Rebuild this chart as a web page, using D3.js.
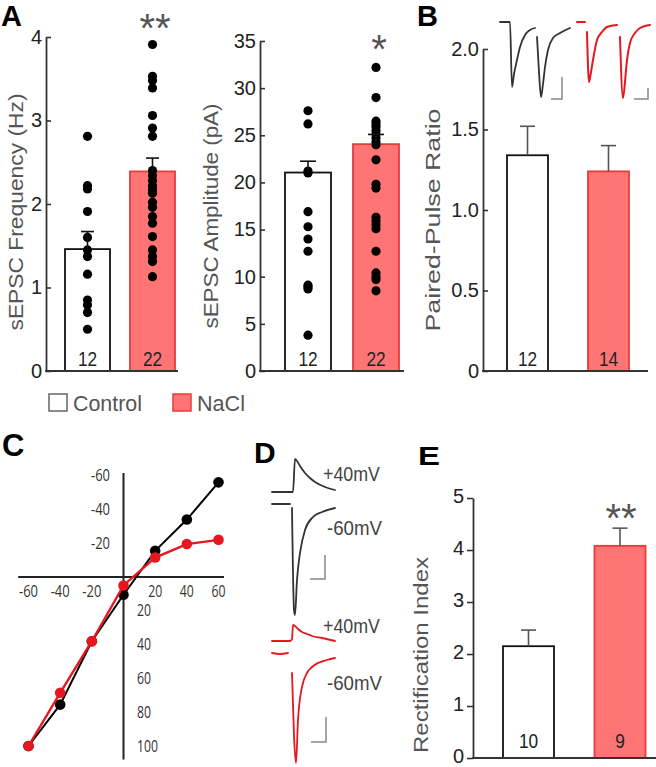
<!DOCTYPE html>
<html><head><meta charset="utf-8">
<script src="https://cdn.jsdelivr.net/npm/d3@7"></script>
<style>body{margin:0;background:#fff}svg{display:block}</style>
</head><body>
<svg id="fig" width="656" height="767"></svg>
<script>
// ---------------- DATA ----------------
const groups = ["Control", "NaCl"];
// Panel A (left): sEPSC frequency (Hz)
const freqMean = [1.46, 2.39];
const freqSem = [0.21, 0.16];
const freqControl = [2.81, 2.22, 2.18, 1.91, 1.60, 1.45, 1.37, 1.16, 0.85, 0.79, 0.70, 0.50];
const freqNaCl = [3.91, 3.53, 3.48, 3.39, 3.06, 2.91, 2.81, 2.40, 2.34, 2.28, 2.22, 2.17, 2.13, 2.02, 1.96, 1.85, 1.77, 1.61, 1.45, 1.37, 1.31, 1.13];
const freqTicks = [0, 1, 2, 3, 4];
// Panel A (right): sEPSC amplitude (pA)
const ampMean = [21.05, 24.06];
const ampSem = [1.2, 1.03];
const ampControl = [27.6, 26.2, 21.2, 21.0, 16.9, 15.3, 14.0, 12.7, 9.1, 8.9, 8.7, 3.8];
const ampNaCl = [32.2, 29.0, 26.5, 26.2, 25.9, 25.5, 25.1, 24.7, 24.3, 24.0, 22.4, 19.8, 19.4, 16.3, 15.9, 15.5, 15.1, 12.7, 10.4, 10.0, 9.7, 8.5];
const ampTicks = [0, 5, 10, 15, 20, 25, 30, 35];
const nA = [12, 22];
// Panel B: paired-pulse ratio
const pprMean = [1.34, 1.24];
const pprSem = [0.18, 0.16];
const pprTicks = [0, 0.5, 1.0, 1.5, 2.0];
const nB = [12, 14];
// Panel C: I-V relation (mV vs normalised current)
const ivVoltage = [-60, -40, -20, 0, 20, 40, 60];
const ivControl = [100, 75.5, 38, 10.5, -15.5, -34, -56];
const ivNaCl = [100, 68.5, 38, 5, -11.5, -19.5, -22];
const ivTicksX = [-60, -40, -20, 20, 40, 60];
const ivTicksY = [-60, -40, -20, 20, 40, 60, 80, 100];
// Panel E: rectification index
const riMean = [2.15, 4.08];
const riSem = [0.31, 0.34];
const riTicks = [0, 1, 2, 3, 4, 5];
const nE = [10, 9];
// Example traces (time, current)
const pprTraceControl = [[0,0],[10,0],[12,65],[14,52],[17,38],[20,25],[25,13],[30,8],[35,6],null,[37,15],[39,50],[41,75],[43,62],[45,45],[48,28],[53,16],[60,11],[70,6]];
const pprTraceNaCl = [[77,0],[85,0],null,[87,10],[89,60],[91,50],[93,38],[97,18],[102,10],[107,5],[117,3],null,[120,15],[123,76],[125,60],[126,48],[130,21],[135,11],[140,6],[150,3]];
const traceCtl40 = [[0,0],[21,0],[23,33],[25,31],[28,26],[33,19],[38,14],[43,10],[53,5],[63,2]];
const traceCtl60 = [[0,-12],[18,-12],null,[20,-16],[22,-118],[23,-123],[25,-88],[28,-61],[33,-38],[41,-25],[50,-20],[63,-16]];
const traceNaCl40 = [[0,0],[18,0],[20,2],[21,16],[23,15],[26,12],[30,9],[35,7],[40,5],[50,3],[63,0]];
const traceNaCl60 = [[0,-12],[8,-13],[16,-12],null,[20,-32],[22,-95],[24,-122],[26,-79],[30,-46],[35,-32],[40,-26],[46,-22],[55,-19],[63,-17]];

// ---------------- STYLE ----------------
const FONT = "'Liberation Sans', Arial, sans-serif";
const RED_FILL = "#ff7474";
const RED_STROKE = "#e43c3c";
const RED_LINE = "#e4181e";
const svg = d3.select("#fig");

function htext(x, y, str, o = {}) {
  const t = svg.append("text").attr("x", x).attr("y", y).text(str)
    .attr("font-family", o.family || FONT).attr("font-size", o.size || 19)
    .attr("fill", o.fill || "#222").attr("text-anchor", o.anchor || "start");
  if (o.weight) t.attr("font-weight", o.weight);
  if (o.len) t.attr("textLength", o.len).attr("lengthAdjust", "spacingAndGlyphs");
  if (o.dy) t.attr("dy", o.dy);
  return t;
}
function vtext(x, y, str, size, len, fill) {
  svg.append("text").attr("transform", `translate(${x},${y}) rotate(-90)`)
    .attr("text-anchor", "middle").attr("dominant-baseline", "central")
    .attr("font-family", FONT).attr("font-size", size).attr("fill", fill)
    .attr("textLength", len).attr("lengthAdjust", "spacingAndGlyphs").text(str);
}

function barPanel(c) {
  const y = d3.scaleLinear().domain([0, c.max]).range([c.y0, c.y1]);
  const x = d3.scalePoint().domain(groups).range(c.centers);
  const g = svg.append("g");
  g.selectAll("rect").data(groups).join("rect")
    .attr("x", d => x(d) - c.barW / 2).attr("width", c.barW)
    .attr("y", (d, i) => y(c.means[i])).attr("height", (d, i) => y(0) - y(c.means[i]))
    .attr("fill", (d, i) => i ? RED_FILL : "#fff")
    .attr("stroke", (d, i) => i ? RED_STROKE : "#111").attr("stroke-width", 1.8);
  if (c.dots) {
    c.dots.forEach((arr, i) => {
      g.append("g").selectAll("circle").data(arr).join("circle")
        .attr("cx", x(groups[i])).attr("cy", v => y(v)).attr("r", 4.6).attr("fill", "#000");
    });
  }
  const eg = g.append("g").attr("stroke", c.errColor).attr("stroke-width", 1.6);
  groups.forEach((d, i) => {
    const top = y(c.means[i] + c.sems[i]);
    eg.append("line").attr("x1", x(d)).attr("x2", x(d)).attr("y1", y(c.means[i])).attr("y2", top);
    eg.append("line").attr("x1", x(d) - c.capW / 2).attr("x2", x(d) + c.capW / 2).attr("y1", top).attr("y2", top);
  });
  const ax = d3.axisLeft(y).tickValues(c.ticks).tickFormat(c.fmt).tickSizeOuter(0)
    .tickSizeInner(c.tickIn ? -5 : 6).tickPadding(c.tickIn ? 4 : 3);
  const ga = g.append("g").attr("transform", `translate(${c.axisX},0)`).call(ax);
  ga.select(".domain").attr("stroke", "#333").attr("stroke-width", 1.8);
  ga.selectAll(".tick line").attr("stroke", "#333").attr("stroke-width", 1.6);
  ga.selectAll(".tick text").attr("font-family", FONT).attr("font-size", 20).attr("fill", "#222")
    .attr("dy", c.tickDy || "0.32em");
  g.append("line").attr("x1", c.axisX - 0.9).attr("x2", c.axisEnd).attr("y1", y(0)).attr("y2", y(0))
    .attr("stroke", "#333").attr("stroke-width", 1.8);
  groups.forEach((d, i) => {
    const s = String(c.n[i]);
    htext(x(d), c.nBase, s, { size: 21, anchor: "middle", fill: "#222", len: 9.6 * s.length });
  });
  return { x, y };
}

const intFmt = d => String(d);
const pprFmt = d => d === 0 ? "0" : d3.format(".1f")(d);

// Panel A - frequency
barPanel({ axisX: 46, y0: 371, y1: 37, max: 4, ticks: freqTicks, fmt: intFmt, centers: [87.5, 152.5], barW: 45,
  means: freqMean, sems: freqSem, dots: [freqControl, freqNaCl], capW: 13, errColor: "#111", tickIn: true,
  axisEnd: 178, n: nA, nBase: 366 });
// Panel A - amplitude
barPanel({ axisX: 260, y0: 371, y1: 41, max: 35, ticks: ampTicks, fmt: intFmt, centers: [308, 376], barW: 46,
  means: ampMean, sems: ampSem, dots: [ampControl, ampNaCl], capW: 16, errColor: "#111", tickIn: true,
  axisEnd: 404, n: nA, nBase: 366 });
// Panel B
barPanel({ axisX: 483, y0: 371, y1: 49, max: 2, ticks: pprTicks, fmt: pprFmt, centers: [527.5, 608.5], barW: 41,
  means: pprMean, sems: pprSem, dots: null, capW: 15, errColor: "#555", tickIn: true,
  axisEnd: 648, n: nB, nBase: 366 });
// Panel E
barPanel({ axisX: 473, y0: 758, y1: 498, max: 5, ticks: riTicks, fmt: intFmt, centers: [528.5, 620], barW: 51,
  means: riMean, sems: riSem, dots: null, capW: 15, errColor: "#555", tickIn: false, tickDy: "0.22em",
  axisEnd: 656, n: nE, nBase: 748 });

// axis titles
vtext(15, 212, "sEPSC Frequency (Hz)", 21, 237, "#555");
vtext(210, 216, "sEPSC Amplitude (pA)", 21, 225, "#555");
vtext(432, 220, "Paired-Pulse Ratio", 21, 223, "#555");
vtext(420, 655, "Rectification Index", 21, 196, "#555");

// significance stars
htext(155, 42, "**", { size: 40, anchor: "middle", fill: "#555" });
htext(379, 63, "*", { size: 40, anchor: "middle", fill: "#555" });
htext(621, 532, "**", { size: 40, anchor: "middle", fill: "#555" });

// panel letters
htext(1, 26, "A", { size: 29, weight: "bold", fill: "#000" });
htext(417, 26, "B", { size: 29, weight: "bold", fill: "#000" });
htext(2, 456, "C", { size: 31, weight: "bold", fill: "#000" });
htext(254, 463, "D", { size: 30, weight: "bold", fill: "#000" });
htext(418, 465, "E", { size: 25, weight: "bold", fill: "#000", len: 22 });

// legend
svg.append("rect").attr("x", 49).attr("y", 394).attr("width", 18).attr("height", 17)
  .attr("fill", "#fff").attr("stroke", "#666").attr("stroke-width", 1.5);
htext(73, 411, groups[0], { size: 22, fill: "#555", len: 69 });
svg.append("rect").attr("x", 173).attr("y", 394).attr("width", 18).attr("height", 17)
  .attr("fill", RED_FILL).attr("stroke", RED_STROKE).attr("stroke-width", 1.5);
htext(197, 411, groups[1], { size: 22, fill: "#555", len: 48 });

// ---------------- Panel C: I-V ----------------
(function () {
  const xC = d3.scaleLinear().domain([-60, 60]).range([28.5, 218.5]);
  const yC = d3.scaleLinear().domain([-60, 100]).range([475.6, 746]);
  const g = svg.append("g");
  g.append("line").attr("x1", xC(-66.5)).attr("x2", xC(63.5)).attr("y1", yC(0)).attr("y2", yC(0))
    .attr("stroke", "#222").attr("stroke-width", 2);
  g.append("line").attr("x1", xC(0)).attr("x2", xC(0)).attr("y1", yC(-61.5)).attr("y2", yC(108))
    .attr("stroke", "#222").attr("stroke-width", 2);
  const lab = { family: "'Open Sans', 'Liberation Sans', sans-serif", size: 16, fill: "#333" };
  const tl = v => Math.abs(v).toString().length * 7 + (v < 0 ? 5 : 0);
  ivTicksX.forEach(v => htext(xC(v), yC(0) + 14, String(v), { ...lab, anchor: "middle", dy: "0.35em", len: tl(v) }));
  ivTicksY.forEach(v => htext(v < 0 ? 110 : 137, yC(v), String(v), { ...lab, anchor: v < 0 ? "end" : "start", dy: "0.35em", len: tl(v) }));
  const line = d3.line().x((d, i) => xC(ivVoltage[i])).y(d => yC(d));
  [[ivControl, "#000", 2], [ivNaCl, RED_LINE, 2.4]].forEach(([arr, col, w]) => {
    g.append("path").attr("d", line(arr)).attr("fill", "none").attr("stroke", col).attr("stroke-width", w);
    g.append("g").selectAll("circle").data(arr).join("circle")
      .attr("cx", (d, i) => xC(ivVoltage[i])).attr("cy", d => yC(d)).attr("r", 5.3).attr("fill", col);
  });
})();

// ---------------- Traces ----------------
function drawTrace(arr, xs, ys, col, w) {
  const l = d3.line().defined(d => d !== null).x(d => xs(d[0])).y(d => ys(d[1])).curve(d3.curveMonotoneX);
  svg.append("path").attr("d", l(arr)).attr("fill", "none").attr("stroke", col).attr("stroke-width", w)
    .attr("stroke-linejoin", "round").attr("stroke-linecap", "round");
}
function scaleBar(xs, ys, t0, t1, v0, v1) {
  svg.append("path").attr("d", `M${xs(t0)},${ys(v1)}H${xs(t1)}V${ys(v0)}`)
    .attr("fill", "none").attr("stroke", "#888").attr("stroke-width", 1.5);
}
// Panel B example traces
const xB = d3.scaleLinear().domain([0, 150]).range([500, 650]);
const yB = d3.scaleLinear().domain([0, 76]).range([22, 98]);
drawTrace(pprTraceControl, xB, yB, "#333", 1.8);
drawTrace(pprTraceNaCl, xB, yB, RED_LINE, 2);
scaleBar(xB, yB, 51, 62, 55, 77);
scaleBar(xB, yB, 134, 148, 66, 77);

// Panel D example traces
const xD = d3.scaleLinear().domain([0, 63]).range([272, 335]);
const yDc = d3.scaleLinear().domain([0, 100]).range([492, 392]);
const yDn = d3.scaleLinear().domain([0, 100]).range([641, 541]);
drawTrace(traceCtl40, xD, yDc, "#333", 1.8);
drawTrace(traceCtl60, xD, yDc, "#333", 1.8);
drawTrace(traceNaCl40, xD, yDn, RED_LINE, 1.8);
drawTrace(traceNaCl60, xD, yDn, RED_LINE, 1.8);
scaleBar(xD, yDc, 38, 53, -63, -87);
scaleBar(xD, yDn, 39, 54, -76, -101);
htext(323, 481, "+40mV", { size: 20, fill: "#444", len: 57 });
htext(327, 535, "-60mV", { size: 20, fill: "#444", len: 55 });
htext(323, 633, "+40mV", { size: 20, fill: "#444", len: 57 });
htext(327, 690, "-60mV", { size: 20, fill: "#444", len: 55 });
</script>
</body></html>
